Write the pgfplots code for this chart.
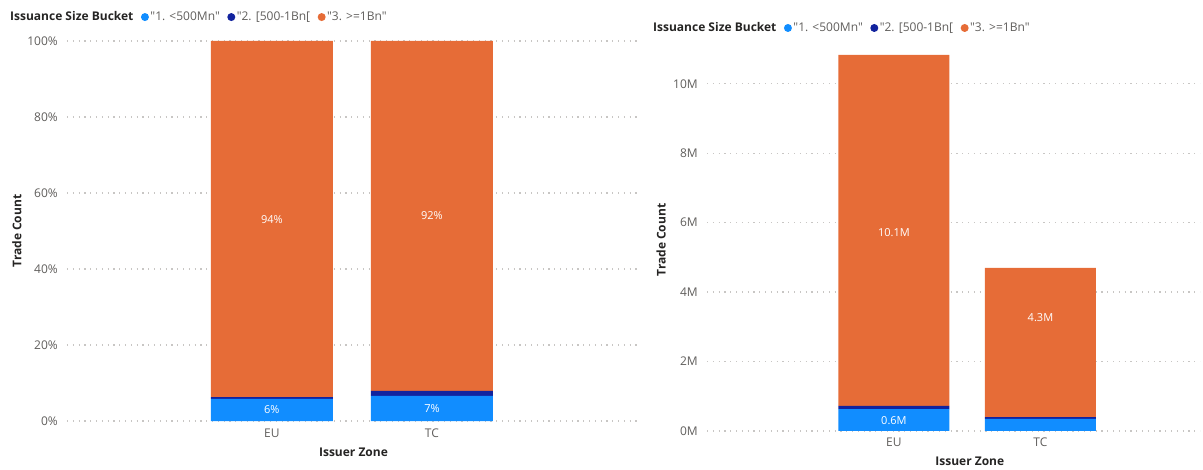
\documentclass[border=0pt]{standalone}
\usepackage{pgfplots}
\pgfplotsset{compat=1.18}
\usepackage{fontspec}
\setmainfont{Open Sans}[Ligatures=TeXOff]
\definecolor{lblue}{HTML}{118DFF}
\definecolor{dblue}{HTML}{12239E}
\definecolor{orng}{HTML}{E66C37}
\definecolor{tickgray}{HTML}{605E5C}
\definecolor{titlegray}{HTML}{252423}
\definecolor{gridgray}{HTML}{C8C6C4}

\pgfplotstableread{
x  small mid  large
0  5.8   0.5  93.7
1  6.6   1.3  92.1
}\pcttable

\pgfplotstableread{
x  small mid  large
0  0.63  0.09 10.11
1  0.35  0.05 4.30
}\cnttable

\pgfplotsset{
  pbi/.style={
    scale only axis, ybar stacked,
    axis line style={draw=none},
    major tick length=0pt,
    tick pos=left,
    ymajorgrids,
    grid style={gridgray, line width=1.2pt, dash pattern=on 1.2pt off 4.6pt},
    xtick={0,1}, xticklabels={EU,TC},
    ticklabel style={font=\fontsize{12}{14}\selectfont, text=tickgray},
    xticklabel style={anchor=base, yshift=-16pt},
    yticklabel style={anchor=east, inner sep=0pt, xshift=-9pt},
    xlabel={Issuer Zone}, ylabel={Trade Count},
    label style={font=\bfseries\fontsize{12}{14}\selectfont, text=titlegray},
    legend columns=-1,
    legend style={draw=none, fill=none, anchor=west, inner sep=0pt,
      font=\fontsize{12}{14}\selectfont, text=tickgray,
      nodes={inner xsep=1.5pt, inner ysep=1pt},
      /tikz/every even column/.append style={column sep=6pt}},
  },
}
\tikzset{lbl/.style={font=\fontsize{11}{13}\selectfont, text=white}}

\begin{document}
\begin{tikzpicture}
\path[use as bounding box] (0pt,0pt) rectangle (1203pt,469pt);

% Left: percentage
\begin{axis}[pbi, at={(67pt,48pt)}, anchor=south west,
  width=573pt, height=380pt,
  xmin=-1.28, xmax=2.3, ymin=0, ymax=100, bar width=0.7625,
  ytick={0,20,40,60,80,100},
  yticklabels={0\%,20\%,40\%,60\%,80\%,100\%},
  ylabel style={at={(axis description cs:-0.0873,0.5)}, anchor=center},
  xlabel style={at={(axis description cs:0.5,-0.0816)}, anchor=center},
  legend style={at={(axis description cs:-0.1021,1.063)}},
]
\addlegendimage{legend image code/.code={}}
\addlegendentry{\textcolor{titlegray}{\bfseries Issuance Size Bucket}}
\addplot[fill=lblue, draw=none, legend image code/.code={\fill[lblue] (0pt,0pt) circle (4pt);}] table[x=x, y=small] {\pcttable};
\addlegendentry{"1. <500Mn"}
\addplot[fill=dblue, draw=none, legend image code/.code={\fill[dblue] (0pt,0pt) circle (4pt);}] table[x=x, y=mid] {\pcttable};
\addlegendentry{"2. [500-1Bn[}
\addplot[fill=orng, draw=none, legend image code/.code={\fill[orng] (0pt,0pt) circle (4pt);}] table[x=x, y=large] {\pcttable};
\addlegendentry{"3. >=1Bn"}
\coordinate (a1) at (axis cs:0,2.9);
\coordinate (a2) at (axis cs:1,3.2);
\coordinate (a3) at (axis cs:0,53.1);
\coordinate (a4) at (axis cs:1,54.0);
\end{axis}
\node[lbl] at (a1) {6\%};
\node[lbl] at (a2) {7\%};
\node[lbl] at (a3) {94\%};
\node[lbl] at (a4) {92\%};

% Right: counts
\begin{axis}[pbi, at={(707pt,38pt)}, anchor=south west,
  width=493pt, height=382pt,
  xmin=-1.276, xmax=2.089, ymin=0, ymax=11, bar width=0.758,
  ytick={0,2,4,6,8,10},
  yticklabels={0M,2M,4M,6M,8M,10M},
  ylabel style={at={(axis description cs:-0.0933,0.5)}, anchor=center},
  xlabel style={at={(axis description cs:0.533,-0.0785)}, anchor=center},
  legend style={at={(axis description cs:-0.1126,1.055)}},
]
\addlegendimage{legend image code/.code={}}
\addlegendentry{\textcolor{titlegray}{\bfseries Issuance Size Bucket}}
\addplot[fill=lblue, draw=none, legend image code/.code={\fill[lblue] (0pt,0pt) circle (4pt);}] table[x=x, y=small] {\cnttable};
\addlegendentry{"1. <500Mn"}
\addplot[fill=dblue, draw=none, legend image code/.code={\fill[dblue] (0pt,0pt) circle (4pt);}] table[x=x, y=mid] {\cnttable};
\addlegendentry{"2. [500-1Bn[}
\addplot[fill=orng, draw=none, legend image code/.code={\fill[orng] (0pt,0pt) circle (4pt);}] table[x=x, y=large] {\cnttable};
\addlegendentry{"3. >=1Bn"}
\coordinate (b1) at (axis cs:0,0.31);
\coordinate (b2) at (axis cs:0,5.7);
\coordinate (b3) at (axis cs:1,3.26);
\end{axis}
\node[lbl] at (b1) {0.6M};
\node[lbl] at (b2) {10.1M};
\node[lbl] at (b3) {4.3M};
\end{tikzpicture}
\end{document}
